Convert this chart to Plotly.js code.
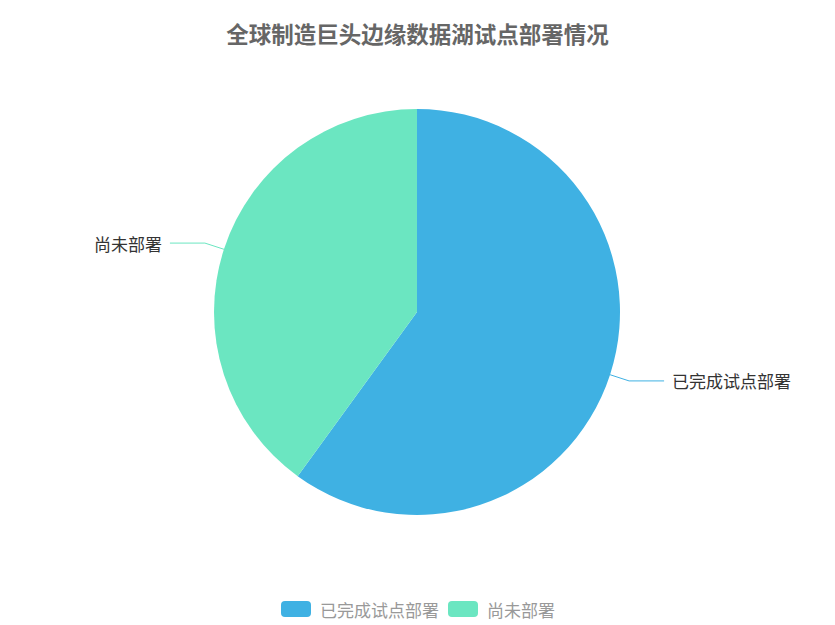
<!DOCTYPE html>
<html>
<head>
<meta charset="utf-8">
<script src="https://cdn.plot.ly/plotly-3.0.1.min.js"></script>
<style>
  html, body { margin: 0; padding: 0; background: #fff; }
  #chart { width: 835px; height: 625px; }
</style>
</head>
<body>
<div id="chart"></div>
<script>
'use strict';

// data
const chartTitle = '全球制造巨头边缘数据湖试点部署情况';
const labels = ['已完成试点部署', '尚未部署'];
const values = [60, 40];
const colors = ['#3fb1e3', '#6be6c1'];

const W = 835, H = 625;
const FONT = '"Noto Sans CJK SC", "Microsoft YaHei", sans-serif';
const cx = 417, cy = 312, R = 203;   // pie centre / radius in px
const px = x => x / W, py = y => 1 - y / H;

// leader lines + labels, derived from slice mid angles
const total = values.reduce((a, b) => a + b, 0);
const shapes = [], annotations = [];
let acc = 0;
values.forEach((v, i) => {
    const mid = (acc + v / 2) / total * 2 * Math.PI;
    acc += v;
    const dx = Math.sin(mid), dy = -Math.cos(mid);
    const x0 = cx + R * dx, y0 = cy + R * dy;
    const x1 = cx + (R + 20) * dx, y1 = cy + (R + 20) * dy;
    const right = dx >= 0;
    const x2 = x1 + (right ? 35 : -35);
    shapes.push({
        type: 'path', xref: 'paper', yref: 'paper',
        path: `M ${px(x0)} ${py(y0)} L ${px(x1)} ${py(y1)} L ${px(x2)} ${py(y1)}`,
        line: { color: colors[i], width: 1 },
    });
    annotations.push({
        xref: 'paper', yref: 'paper', x: px(x2 + (right ? 6 : -6)), y: py(y1),
        xanchor: right ? 'left' : 'right', yanchor: 'middle', showarrow: false,
        text: labels[i], font: { family: FONT, size: 17, color: '#333' },
    });
});

// custom legend at the bottom
const charW = 17, swW = 30, swH = 16, legY = 609;
const itemW = labels.map(l => swW + 8 + l.length * charW);
let lx = W / 2 - (itemW.reduce((a, b) => a + b, 0) + 10 * (labels.length - 1)) / 2;
labels.forEach((l, i) => {
    const r = 4, x0 = lx, x1 = lx + swW, y0 = legY - swH / 2, y1 = legY + swH / 2;
    shapes.push({
        type: 'path', xref: 'paper', yref: 'paper',
        path: `M ${px(x0 + r)} ${py(y0)} L ${px(x1 - r)} ${py(y0)} Q ${px(x1)} ${py(y0)} ${px(x1)} ${py(y0 + r)} ` +
              `L ${px(x1)} ${py(y1 - r)} Q ${px(x1)} ${py(y1)} ${px(x1 - r)} ${py(y1)} ` +
              `L ${px(x0 + r)} ${py(y1)} Q ${px(x0)} ${py(y1)} ${px(x0)} ${py(y1 - r)} ` +
              `L ${px(x0)} ${py(y0 + r)} Q ${px(x0)} ${py(y0)} ${px(x0 + r)} ${py(y0)} Z`,
        fillcolor: colors[i], line: { width: 0 },
    });
    annotations.push({
        xref: 'paper', yref: 'paper', x: px(x1 + 7), y: py(legY),
        xanchor: 'left', yanchor: 'middle', showarrow: false,
        text: l, font: { family: FONT, size: 17, color: '#999' },
    });
    lx += itemW[i] + 10;
});

Plotly.newPlot('chart', [{
    type: 'pie', labels, values, sort: false, direction: 'clockwise', rotation: 0,
    marker: { colors, line: { width: 0 } },
    textinfo: 'none', hoverinfo: 'label+value+percent',
    domain: { x: [px(cx - R), px(cx + R)], y: [py(cy + R), py(cy - R)] },
}], {
    width: W, height: H,
    margin: { l: 0, r: 0, t: 0, b: 0 },
    paper_bgcolor: '#fff',
    showlegend: false,
    title: {
        text: chartTitle, x: 0.5, xanchor: 'center', y: py(35), yanchor: 'middle',
        font: { family: FONT, size: 22.5, color: '#666', weight: 'bold' },
    },
    shapes, annotations,
}, { displayModeBar: false });
</script>
</body>
</html>
